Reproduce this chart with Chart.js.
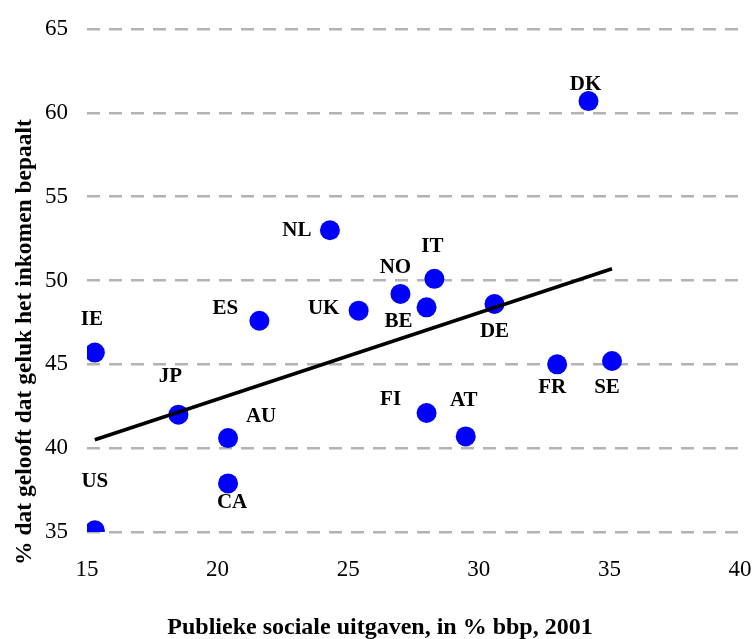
<!DOCTYPE html>
<html>
<head>
<meta charset="utf-8">
<script src="https://cdn.jsdelivr.net/npm/chart.js@4/dist/chart.umd.min.js"></script>
<style>
  html, body { margin: 0; padding: 0; background: #fff; }
  #wrap { width: 755px; height: 639px; }
</style>
</head>
<body>
<div id="wrap"><canvas id="chart" width="755" height="639"></canvas></div>
<script>
// Data
const countries = ['US', 'IE', 'JP', 'AU', 'CA', 'ES', 'NL', 'UK', 'NO', 'IT', 'BE', 'DE', 'FR', 'SE', 'FI', 'AT', 'DK'];
const socialSpending = [15.3, 15.3, 18.5, 20.4, 20.4, 21.6, 24.3, 25.4, 27.0, 28.3, 28.0, 30.6, 33.0, 35.1, 28.0, 29.5, 34.2];
const incomeBelief = [35.1, 45.7, 42.0, 40.6, 37.9, 47.6, 53.0, 48.2, 49.2, 50.1, 48.4, 48.6, 45.0, 45.2, 42.1, 40.7, 60.7];
const trendX = [15.3, 35.1];
const trendY = [40.5, 50.7];
const xTicks = [15, 20, 25, 30, 35, 40];
const yTicks = [35, 40, 45, 50, 55, 60, 65];

// where each label sits relative to its dot (px)
const labelOffsets = {
    US: [0, -49], IE: [-3, -33], JP: [-8, -38], AU: [33, -22], CA: [4, 19],
    ES: [-34, -12], NL: [-33, 0], UK: [-35, -2], NO: [-5, -26], IT: [-2, -32],
    BE: [-28, 14], DE: [0, 28], FR: [-5, 23], SE: [-5, 27], FI: [-36, -13],
    AT: [-2, -36], DK: [-3, -17]
};

const serif = "'Liberation Serif', 'Times New Roman', serif";
Chart.defaults.font.family = serif;
Chart.defaults.color = '#000';

const points = countries.map((c, i) => ({ x: socialSpending[i], y: incomeBelief[i] }));
const trend = trendX.map((x, i) => ({ x: x, y: trendY[i] }));

// country labels and the two axis titles
const labelPlugin = {
    id: 'labels',
    afterDatasetsDraw(chart) {
        const ctx = chart.ctx;
        const meta = chart.getDatasetMeta(1);
        ctx.save();
        ctx.fillStyle = '#000';
        ctx.textAlign = 'center';
        ctx.textBaseline = 'middle';
        ctx.font = 'bold 21px ' + serif;
        meta.data.forEach((pt, i) => {
            const off = labelOffsets[countries[i]] || [0, -20];
            ctx.fillText(countries[i], pt.x + off[0], pt.y + off[1]);
        });

        ctx.font = 'bold 24px ' + serif;
        ctx.fillText('Publieke sociale uitgaven, in % bbp, 2001', 380, 628);

        ctx.font = 'bold 23.5px ' + serif;
        ctx.translate(25, 342);
        ctx.rotate(-Math.PI / 2);
        ctx.fillText('% dat gelooft dat geluk het inkomen bepaalt', 0, 0);
        ctx.restore();
    }
};

const ctx = document.getElementById('chart').getContext('2d');
const chart = new Chart(ctx, {
    type: 'scatter',
    data: {
        datasets: [{
            type: 'line',
            label: 'trend',
            data: trend,
            borderColor: '#000',
            borderWidth: 3.5,
            pointRadius: 0,
            fill: false,
            order: 0
        }, {
            label: 'landen',
            data: points,
            backgroundColor: '#0000ff',
            borderWidth: 0,
            pointRadius: 10,
            pointHoverRadius: 10,
            order: 1
        }]
    },
    options: {
        responsive: false,
        animation: false,
        layout: { padding: { top: 29, right: 15, left: 0, bottom: 0 } },
        plugins: {
            legend: { display: false },
            tooltip: { enabled: false }
        },
        scales: {
            x: {
                type: 'linear',
                min: 15,
                max: 40,
                afterBuildTicks: (scale) => { scale.ticks = xTicks.map(v => ({ value: v })); },
                afterFit: (scale) => {
                    scale.height = 107;
                    scale.paddingLeft = 0;
                    scale.paddingRight = 0;
                },
                border: { display: false },
                grid: { display: false, drawTicks: false },
                ticks: { padding: 24, font: { size: 23 } }
            },
            y: {
                min: 35,
                max: 65,
                afterBuildTicks: (scale) => { scale.ticks = yTicks.map(v => ({ value: v })); },
                afterFit: (scale) => {
                    scale.width = 87;
                    scale.paddingTop = 0;
                    scale.paddingBottom = 0;
                },
                border: { display: false, dash: [13, 9] },
                grid: { color: '#b3b3b3', lineWidth: 2.5, drawTicks: false },
                ticks: { padding: 19, font: { size: 23 } }
            }
        }
    },
    plugins: [labelPlugin]
});
</script>
</body>
</html>
